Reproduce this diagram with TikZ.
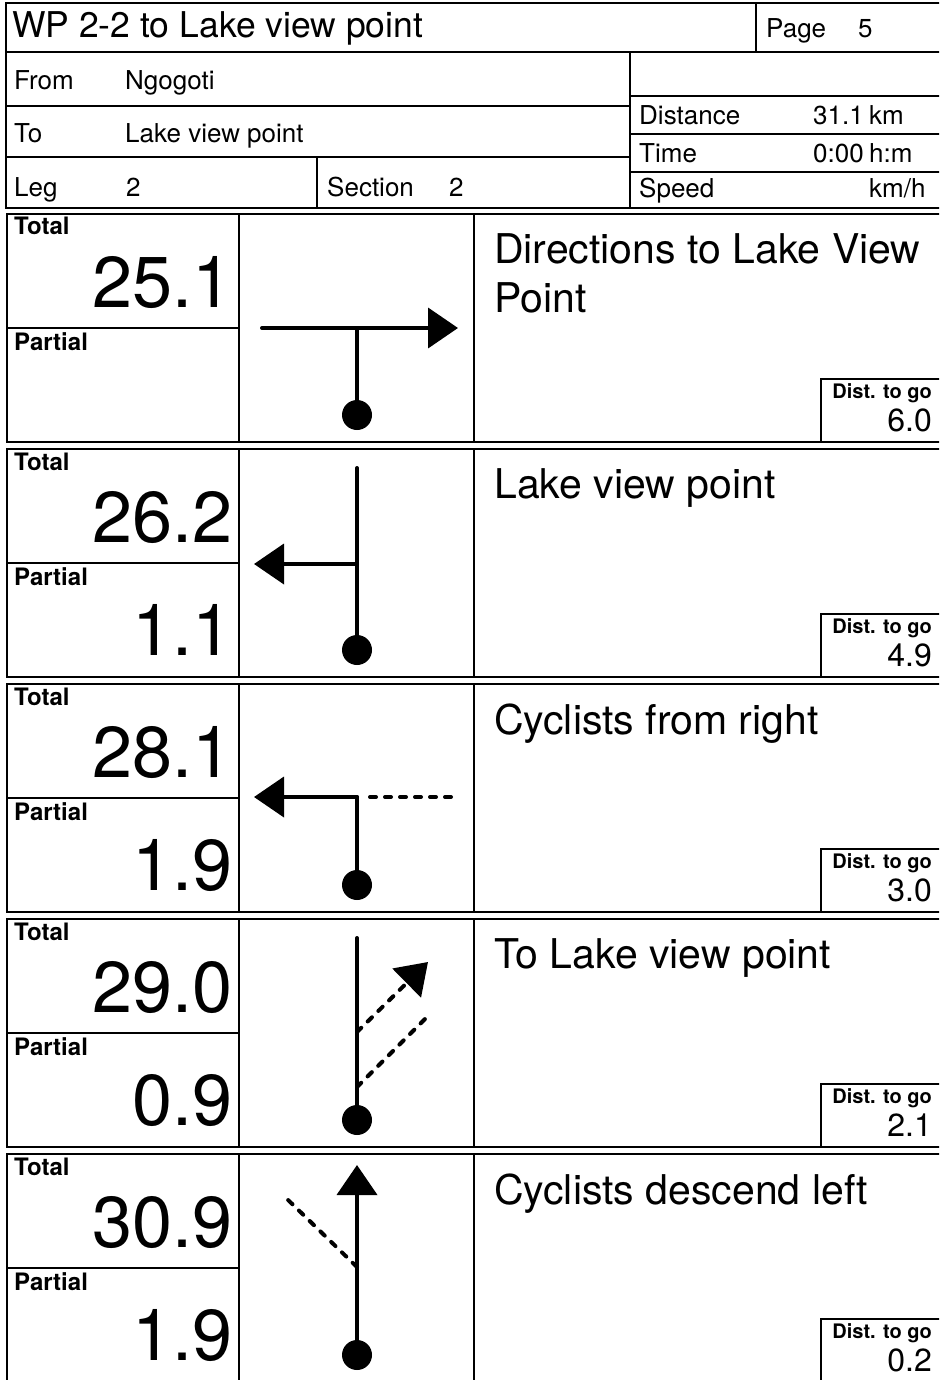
\documentclass[tikz,border=0pt]{standalone}
\usepackage{fontspec}
\setmainfont{TeX Gyre Heros}
\usetikzlibrary{arrows.meta}

\tikzset{
  frame/.style={line width=1.2pt},
  road/.style={line width=4pt, line cap=round},
  track/.style={line width=4pt, line cap=round, dash pattern=on 6pt off 9pt},
  arrowend/.style={-{Triangle[length=30pt,width=40pt]}},
  start/.style={circle, fill, inner sep=0pt, minimum size=30pt},
  txt/.style={anchor=base west, inner sep=0pt, font=\fontsize{26}{30}\selectfont},
  lbl/.style={anchor=base west, inner sep=0pt, font=\bfseries\fontsize{24}{28}\selectfont},
  big/.style={anchor=base east, inner sep=0pt, font=\fontsize{72}{72}\selectfont},
  note/.style={anchor=north west, inner sep=0pt, align=left, font=\fontsize{41}{49}\selectfont},
  togo/.style={anchor=base east, inner sep=0pt, font=\bfseries\fontsize{20}{24}\selectfont},
  togoval/.style={anchor=base east, inner sep=0pt, font=\fontsize{32}{36}\selectfont}
}

\begin{document}
\begin{tikzpicture}[x=1pt, y=-1pt]
    \useasboundingbox (0,0) rectangle (939,1380);
    \clip (0,0) rectangle (939,1380);

    % header
    \draw[frame] (6,3) rectangle (945,208);
    \draw[frame] (6,52) -- (945,52);
    \draw[frame] (756,3) -- (756,52);
    \draw[frame] (630,52) -- (630,208);
    \draw[frame] (6,106) -- (630,106);
    \draw[frame] (6,157) -- (630,157);
    \draw[frame] (317,157) -- (317,208);
    \draw[frame] (630,96) -- (945,96);
    \draw[frame] (630,134) -- (945,134);
    \draw[frame] (630,172) -- (945,172);

    \node[txt, font=\fontsize{35.5}{40}\selectfont] (title) at (12,38) {WP 2-2 to Lake view point};
    \node[txt] (page) at (766,38) {Page};
    \node[txt] (pageno) at (858,38) {5};
    \node[txt] (from) at (14,90) {From};
    \node[txt] (fromval) at (125,90) {Ngogoti};
    \node[txt] (to) at (14,143) {To};
    \node[txt] (toval) at (125,143) {Lake view point};
    \node[txt] (leg) at (14,197) {Leg};
    \node[txt] (legval) at (126,197) {2};
    \node[txt] (sect) at (327,197) {Section};
    \node[txt] (sectval) at (449,197) {2};
    \node[txt] (dist) at (639,125) {Distance};
    \node[txt, anchor=base east] (distval) at (864,125) {31.1};
    \node[txt] (distunit) at (869,125) {km};
    \node[txt] (time) at (639,163) {Time};
    \node[txt, anchor=base east] (timeval) at (864,163) {0:00};
    \node[txt] (timeunit) at (869,163) {h:m};
    \node[txt] (speed) at (639,198) {Speed};
    \node[txt] (speedunit) at (869,198) {km/h};

    % rows
    \foreach \k/\tot/\prt/\dtg/\desc in {
        0/25.1//6.0/{Directions to Lake View\\Point},
        1/26.2/1.1/4.9/Lake view point,
        2/28.1/1.9/3.0/Cyclists from right,
        3/29.0/0.9/2.1/To Lake view point,
        4/30.9/1.9/0.2/Cyclists descend left} {
      \begin{scope}[shift={(0,214+235*\k)}]
        \draw[frame] (7,0) rectangle (945,228);
        \draw[frame] (239,0) -- (239,228);
        \draw[frame] (474,0) -- (474,228);
        \draw[frame] (7,114) -- (239,114);
        \draw[frame] (821,228) |- (945,165);
        \node[lbl] (total\k) at (14,21) {Total};
        \node[big] (totval\k) at (233,93) {\tot};
        \node[lbl] (partial\k) at (14,136) {Partial};
        \node[big] (partval\k) at (233,206) {\prt};
        \node[note] (desc\k) at (494,19.5) {\desc};
        \node[togo] (togo\k) at (932,184) {Dist. to go};
        \node[togoval] (togoval\k) at (932,217) {\dtg};
      \end{scope}
    }

    % row 1: right turn
    \begin{scope}[shift={(0,214)}]
      \node[start] (s1) at (357,201) {};
      \coordinate (j1) at (357,114);
      \coordinate (a1) at (262,114);
      \coordinate (b1) at (458,114);
      \draw[road] (j1) -- (s1.center);
      \draw[road, arrowend] (a1) -- (b1);
    \end{scope}

    % row 2: left turn
    \begin{scope}[shift={(0,449)}]
      \node[start] (s2) at (357,201) {};
      \coordinate (n2) at (357,19);
      \coordinate (j2) at (357,115);
      \coordinate (b2) at (254,115);
      \draw[road] (n2) -- (s2.center);
      \draw[road, arrowend] (j2) -- (b2);
    \end{scope}

    % row 3: left turn, track from right
    \begin{scope}[shift={(0,684)}]
      \node[start] (s3) at (357,201) {};
      \coordinate (j3) at (357,113);
      \coordinate (b3) at (254,113);
      \coordinate (c3) at (370,113);
      \coordinate (d3) at (452,113);
      \draw[road] (j3) -- (s3.center);
      \draw[road, arrowend] (j3) -- (b3);
      \draw[track] (c3) -- (d3);
    \end{scope}

    % row 4: two tracks to the right
    \begin{scope}[shift={(0,919)}]
      \node[start] (s4) at (357,201) {};
      \coordinate (n4) at (357,19);
      \coordinate (j4) at (357,113);
      \coordinate (b4) at (428,43);
      \coordinate (k4) at (357,168);
      \coordinate (d4) at (428,97);
      \draw[road] (n4) -- (s4.center);
      \draw[track, arrowend] (j4) -- (b4);
      \draw[track] (k4) -- (d4);
    \end{scope}

    % row 5: straight on, track descends left
    \begin{scope}[shift={(0,1154)}]
      \node[start] (s5) at (357,201) {};
      \coordinate (n5) at (357,11);
      \coordinate (j5) at (357,113);
      \coordinate (d5) at (285,43);
      \draw[road, arrowend] (s5.center) -- (n5);
      \draw[track] (j5) -- (d5);
    \end{scope}
\end{tikzpicture}
\end{document}
